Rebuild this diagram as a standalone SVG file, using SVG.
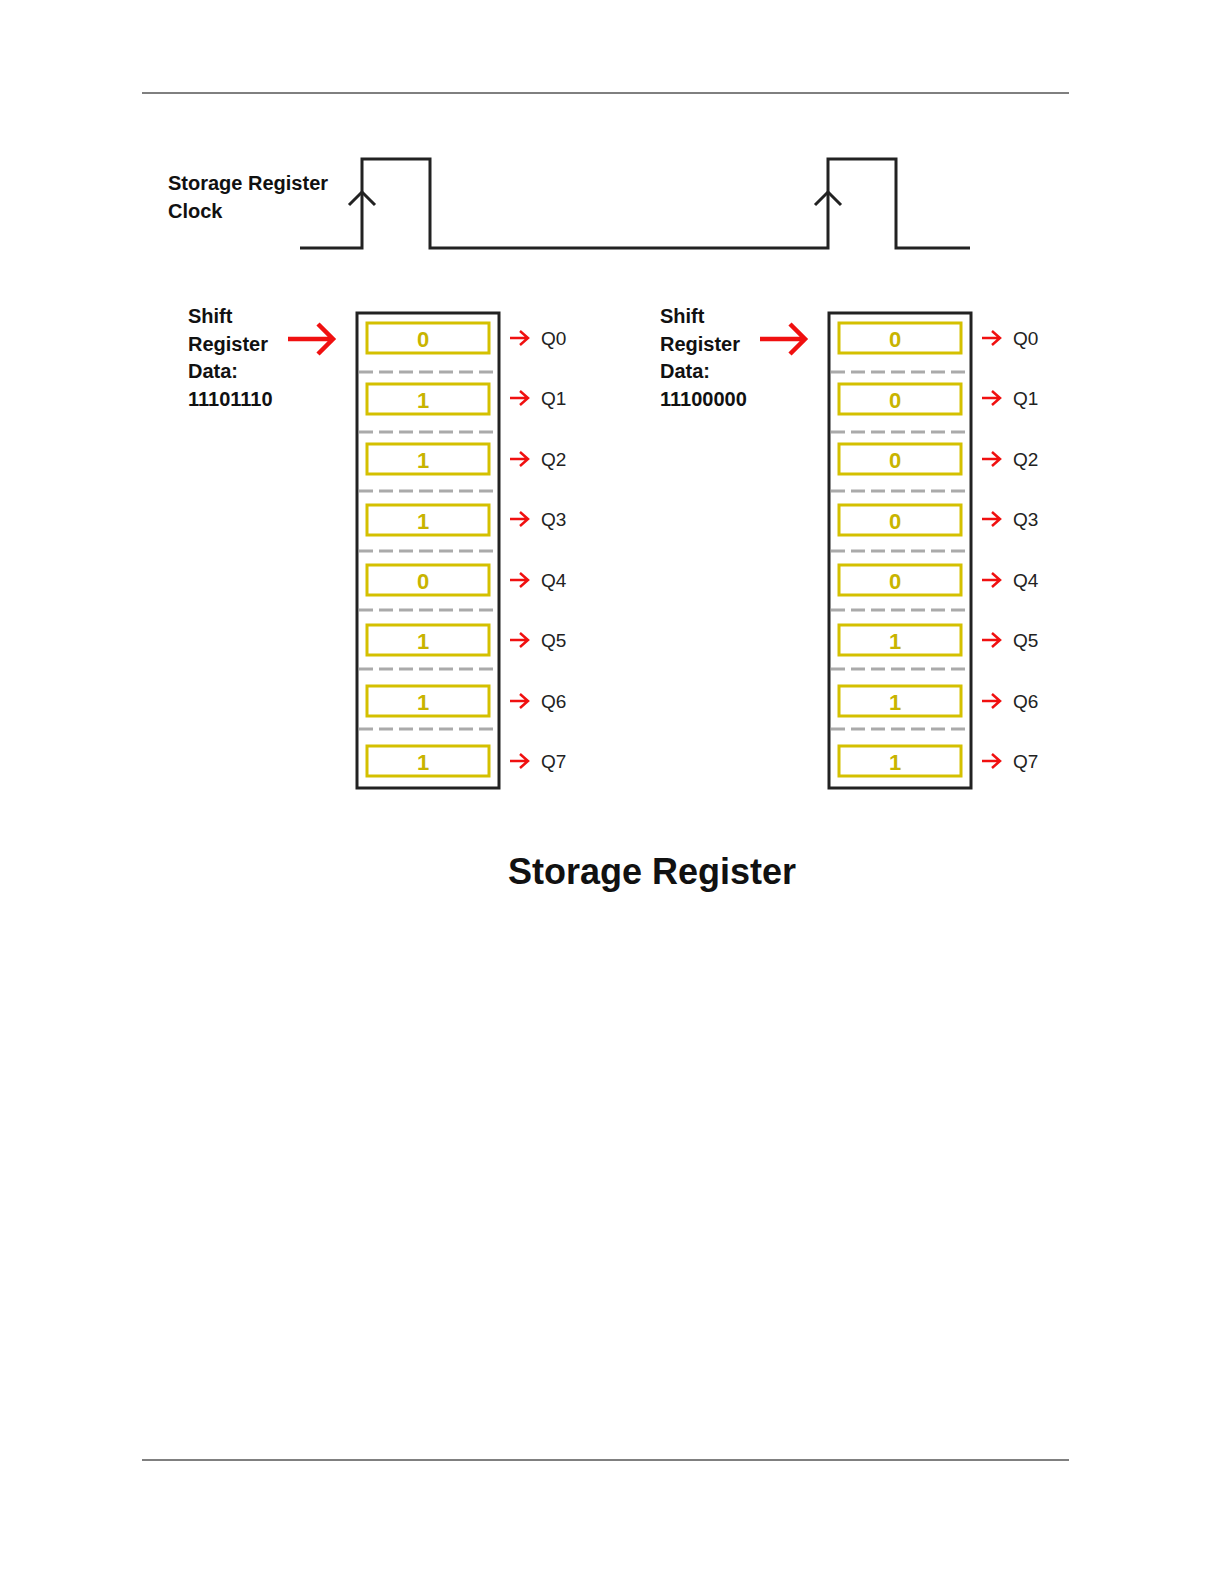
<svg xmlns="http://www.w3.org/2000/svg" width="1224" height="1584" viewBox="0 0 1224 1584">
<style>
.lbl{font-family:"Liberation Sans",sans-serif;font-weight:bold;font-size:20px;fill:#111}
.q{font-family:"Liberation Sans",sans-serif;font-size:19px;fill:#222}
.bit{font-family:"Liberation Sans",sans-serif;font-weight:bold;font-size:22px;fill:#c8b400;text-anchor:middle}
.cell{fill:none;stroke:#d4c000;stroke-width:3}
.box{fill:#fff;stroke:#222;stroke-width:3}
.dash{stroke:#aaa;stroke-width:3;stroke-dasharray:14,6}
.red{stroke:#f01010;fill:none;stroke-width:2.5}
.bigred{stroke:#f01010;fill:none;stroke-width:4.5}
.wave{stroke:#222;fill:none;stroke-width:3}
</style>
<defs>
<g id="outarrow"><path class="red" d="M0 0H18M10 -7L18 0L10 7"/></g>
</defs>
<line x1="142" y1="93" x2="1069" y2="93" stroke="#000"/>
<line x1="142" y1="1460" x2="1069" y2="1460" stroke="#000"/>
<g id="clock">
<text class="lbl" x="168" y="190">Storage Register</text>
<text class="lbl" x="168" y="218">Clock</text>
<path class="wave" d="M300 248H362V159H430V248H828V159H896V248H970"/>
<path class="wave" d="M349 205L362 192L375 205M815 205L828 192L841 205"/>
</g>
<g id="left-register">
<text class="lbl" x="188" y="323">Shift</text>
<text class="lbl" x="188" y="351">Register</text>
<text class="lbl" x="188" y="378">Data:</text>
<text class="lbl" x="188" y="406">11101110</text>
<path class="bigred" d="M288 339H332M318 324L333 339L318 354"/>
<rect class="box" x="357" y="313" width="142" height="475"/>
<g class="dash"><line x1="359" y1="372" x2="497" y2="372"/><line x1="359" y1="432" x2="497" y2="432"/><line x1="359" y1="491" x2="497" y2="491"/><line x1="359" y1="551" x2="497" y2="551"/><line x1="359" y1="610" x2="497" y2="610"/><line x1="359" y1="669" x2="497" y2="669"/><line x1="359" y1="729" x2="497" y2="729"/></g>
<rect class="cell" x="367" y="323" width="122" height="30"/><rect class="cell" x="367" y="384" width="122" height="30"/><rect class="cell" x="367" y="444" width="122" height="30"/><rect class="cell" x="367" y="505" width="122" height="30"/><rect class="cell" x="367" y="565" width="122" height="30"/><rect class="cell" x="367" y="625" width="122" height="30"/><rect class="cell" x="367" y="686" width="122" height="30"/><rect class="cell" x="367" y="746" width="122" height="30"/>
<text class="bit" x="423" y="347">0</text><text class="bit" x="423" y="408">1</text><text class="bit" x="423" y="468">1</text><text class="bit" x="423" y="529">1</text><text class="bit" x="423" y="589">0</text><text class="bit" x="423" y="649">1</text><text class="bit" x="423" y="710">1</text><text class="bit" x="423" y="770">1</text>
<use href="#outarrow" x="510" y="338"/><use href="#outarrow" x="510" y="398"/><use href="#outarrow" x="510" y="459"/><use href="#outarrow" x="510" y="519"/><use href="#outarrow" x="510" y="580"/><use href="#outarrow" x="510" y="640"/><use href="#outarrow" x="510" y="701"/><use href="#outarrow" x="510" y="761"/>
<text class="q" x="541" y="345">Q0</text><text class="q" x="541" y="405">Q1</text><text class="q" x="541" y="466">Q2</text><text class="q" x="541" y="526">Q3</text><text class="q" x="541" y="587">Q4</text><text class="q" x="541" y="647">Q5</text><text class="q" x="541" y="708">Q6</text><text class="q" x="541" y="768">Q7</text>
</g>
<g id="right-register" transform="translate(472,0)">
<text class="lbl" x="188" y="323">Shift</text>
<text class="lbl" x="188" y="351">Register</text>
<text class="lbl" x="188" y="378">Data:</text>
<text class="lbl" x="188" y="406">11100000</text>
<path class="bigred" d="M288 339H332M318 324L333 339L318 354"/>
<rect class="box" x="357" y="313" width="142" height="475"/>
<g class="dash"><line x1="359" y1="372" x2="497" y2="372"/><line x1="359" y1="432" x2="497" y2="432"/><line x1="359" y1="491" x2="497" y2="491"/><line x1="359" y1="551" x2="497" y2="551"/><line x1="359" y1="610" x2="497" y2="610"/><line x1="359" y1="669" x2="497" y2="669"/><line x1="359" y1="729" x2="497" y2="729"/></g>
<rect class="cell" x="367" y="323" width="122" height="30"/><rect class="cell" x="367" y="384" width="122" height="30"/><rect class="cell" x="367" y="444" width="122" height="30"/><rect class="cell" x="367" y="505" width="122" height="30"/><rect class="cell" x="367" y="565" width="122" height="30"/><rect class="cell" x="367" y="625" width="122" height="30"/><rect class="cell" x="367" y="686" width="122" height="30"/><rect class="cell" x="367" y="746" width="122" height="30"/>
<text class="bit" x="423" y="347">0</text><text class="bit" x="423" y="408">0</text><text class="bit" x="423" y="468">0</text><text class="bit" x="423" y="529">0</text><text class="bit" x="423" y="589">0</text><text class="bit" x="423" y="649">1</text><text class="bit" x="423" y="710">1</text><text class="bit" x="423" y="770">1</text>
<use href="#outarrow" x="510" y="338"/><use href="#outarrow" x="510" y="398"/><use href="#outarrow" x="510" y="459"/><use href="#outarrow" x="510" y="519"/><use href="#outarrow" x="510" y="580"/><use href="#outarrow" x="510" y="640"/><use href="#outarrow" x="510" y="701"/><use href="#outarrow" x="510" y="761"/>
<text class="q" x="541" y="345">Q0</text><text class="q" x="541" y="405">Q1</text><text class="q" x="541" y="466">Q2</text><text class="q" x="541" y="526">Q3</text><text class="q" x="541" y="587">Q4</text><text class="q" x="541" y="647">Q5</text><text class="q" x="541" y="708">Q6</text><text class="q" x="541" y="768">Q7</text>
</g>
<text x="652" y="884" text-anchor="middle" style="font-family:'Liberation Sans',sans-serif;font-weight:bold;font-size:36px;fill:#111">Storage Register</text>
</svg>
